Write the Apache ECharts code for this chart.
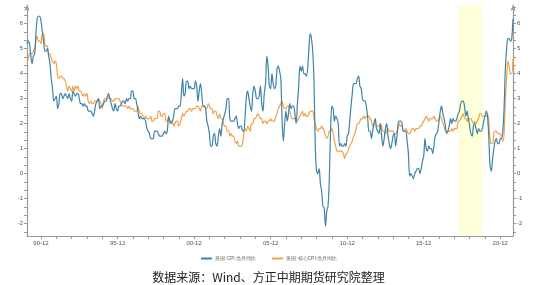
<!DOCTYPE html>
<html>
<head>
<meta charset="utf-8">
<script src="https://cdn.jsdelivr.net/npm/echarts@6/dist/echarts.min.js"></script>
<style>
  html, body { margin: 0; padding: 0; background: #fff; }
  #chart { width: 537px; height: 285px; }
</style>
</head>
<body>
<div id="chart"></div>
<script>
// 美国CPI当月同比，1990-01 ~ 2021-10，按年排列
var cpiYoy = [
  5.2,5.3,5.2,4.7,4.4,4.7,4.8,5.6,6.2,6.3,6.3,6.1,
  5.7,5.3,4.9,4.9,5.0,4.7,4.4,3.8,3.4,2.9,3.0,3.1,
  2.6,2.8,3.2,3.2,3.0,3.1,3.2,3.1,3.0,3.2,3.0,2.9,
  3.3,3.2,3.1,3.2,3.2,3.0,2.8,2.8,2.7,2.8,2.7,2.7,
  2.5,2.5,2.5,2.4,2.3,2.5,2.8,2.9,3.0,2.6,2.7,2.7,
  2.8,2.9,2.9,3.1,3.2,3.0,2.8,2.6,2.5,2.8,2.6,2.5,
  2.7,2.7,2.8,2.9,2.9,2.8,3.0,2.9,3.0,3.0,3.3,3.3,
  3.0,3.0,2.8,2.5,2.2,2.3,2.2,2.2,2.2,2.1,1.8,1.7,
  1.6,1.4,1.4,1.4,1.7,1.7,1.7,1.6,1.5,1.5,1.5,1.6,
  1.7,1.6,1.7,2.3,2.1,2.0,2.1,2.3,2.6,2.6,2.6,2.7,
  2.7,3.2,3.8,3.1,3.2,3.7,3.7,3.4,3.5,3.4,3.4,3.4,
  3.7,3.5,2.9,3.3,3.6,3.2,2.7,2.7,2.6,2.1,1.9,1.6,
  1.1,1.1,1.5,1.6,1.2,1.1,1.5,1.8,1.5,2.0,2.2,2.4,
  2.6,3.0,3.0,2.2,2.1,2.1,2.1,2.2,2.3,2.0,1.8,1.9,
  1.9,1.7,1.7,2.3,3.1,3.3,3.0,2.7,2.5,3.2,3.5,3.3,
  3.0,3.0,3.1,3.5,2.8,2.5,3.2,3.6,4.7,4.3,3.5,3.4,
  4.0,3.6,3.4,3.5,4.2,4.3,4.1,3.8,2.1,1.3,2.0,2.5,
  2.1,2.4,2.8,2.6,2.7,2.7,2.4,2.0,2.8,3.5,4.3,4.1,
  4.3,4.0,4.0,3.9,4.2,5.0,5.6,5.4,4.9,3.7,1.1,0.1,
  0.0,0.2,-0.4,-0.7,-1.3,-1.4,-2.1,-1.5,-1.3,-0.2,1.8,2.7,
  2.6,2.1,2.3,2.2,2.0,1.1,1.2,1.1,1.1,1.2,1.1,1.5,
  1.6,2.1,2.7,3.2,3.6,3.6,3.6,3.8,3.9,3.5,3.4,3.0,
  2.9,2.9,2.7,2.3,1.7,1.7,1.4,1.7,2.0,2.2,1.8,1.7,
  1.6,2.0,1.5,1.1,1.4,1.8,2.0,1.5,1.2,1.0,1.2,1.5,
  1.6,1.1,1.5,2.0,2.1,2.1,2.0,1.7,1.7,1.7,1.3,0.8,
  -0.1,0.0,-0.1,-0.2,0.0,0.1,0.2,0.2,0.0,0.2,0.5,0.7,
  1.4,1.0,0.9,1.1,1.0,1.0,0.8,1.1,1.5,1.6,1.7,2.1,
  2.5,2.7,2.4,2.2,1.9,1.6,1.7,1.9,2.2,2.0,2.2,2.1,
  2.1,2.2,2.4,2.5,2.8,2.9,2.9,2.7,2.3,2.5,2.2,1.9,
  1.6,1.5,1.9,2.0,1.8,1.6,1.8,1.7,1.7,1.8,2.1,2.3,
  2.5,2.3,1.5,0.3,0.1,0.6,1.0,1.3,1.4,1.2,1.2,1.4,
  1.4,1.7,2.6,4.2,5.0,5.4,5.4,5.3,5.4,6.2
];

// 美国核心CPI当月同比
var coreCpiYoy = [
  4.4,4.6,4.8,4.8,4.8,4.9,5.0,5.3,5.5,5.3,5.3,5.2,
  5.6,5.6,5.2,5.1,5.1,4.8,4.8,4.6,4.5,4.4,4.5,4.4,
  3.9,3.8,3.9,3.9,3.8,3.8,3.7,3.5,3.3,3.5,3.4,3.3,
  3.5,3.3,3.5,3.4,3.5,3.3,3.3,3.2,3.1,3.2,3.1,3.2,
  2.9,2.8,2.9,2.8,2.8,2.9,2.9,2.9,3.0,2.9,2.8,2.6,
  2.9,3.0,3.0,3.0,3.1,3.0,3.0,2.9,2.9,3.0,3.0,3.0,
  3.0,2.9,2.8,2.7,2.7,2.7,2.7,2.6,2.7,2.6,2.6,2.6,
  2.5,2.5,2.5,2.7,2.5,2.4,2.4,2.3,2.2,2.3,2.2,2.2,
  2.2,2.3,2.1,2.1,2.2,2.2,2.2,2.5,2.5,2.3,2.3,2.4,
  2.4,2.1,2.1,2.2,2.0,2.1,2.1,1.9,2.0,2.1,2.1,1.9,
  2.0,2.2,2.4,2.3,2.4,2.5,2.5,2.6,2.6,2.5,2.6,2.6,
  2.6,2.7,2.7,2.6,2.5,2.7,2.7,2.7,2.6,2.6,2.8,2.7,
  2.6,2.6,2.4,2.5,2.5,2.3,2.2,2.4,2.2,2.2,2.0,1.9,
  1.9,1.7,1.7,1.5,1.6,1.5,1.5,1.3,1.2,1.3,1.1,1.1,
  1.1,1.2,1.6,1.8,1.7,1.9,1.8,1.7,2.0,2.0,2.2,2.2,
  2.3,2.4,2.3,2.2,2.2,2.0,2.1,2.1,2.0,2.1,2.1,2.2,
  2.1,2.1,2.1,2.3,2.4,2.6,2.7,2.8,2.9,2.7,2.6,2.6,
  2.7,2.7,2.5,2.3,2.2,2.2,2.2,2.1,2.1,2.2,2.3,2.4,
  2.5,2.3,2.4,2.3,2.3,2.4,2.5,2.5,2.5,2.2,2.0,1.8,
  1.7,1.8,1.8,1.9,1.8,1.7,1.5,1.4,1.5,1.7,1.7,1.8,
  1.6,1.3,1.1,0.9,0.9,0.9,0.9,0.9,0.8,0.6,0.8,0.8,
  1.0,1.1,1.2,1.3,1.5,1.6,1.8,2.0,2.0,2.1,2.2,2.2,
  2.3,2.2,2.3,2.3,2.3,2.2,2.1,1.9,2.0,2.0,1.9,1.9,
  1.9,2.0,1.9,1.7,1.7,1.6,1.7,1.8,1.7,1.7,1.7,1.7,
  1.6,1.6,1.7,1.8,2.0,1.9,1.9,1.7,1.7,1.8,1.7,1.6,
  1.6,1.7,1.8,1.8,1.7,1.8,1.8,1.8,1.9,1.9,2.0,2.1,
  2.2,2.3,2.2,2.1,2.2,2.2,2.2,2.3,2.2,2.1,2.1,2.2,
  2.3,2.2,2.0,1.9,1.7,1.7,1.7,1.7,1.7,1.8,1.7,1.8,
  1.8,1.8,2.1,2.1,2.2,2.3,2.4,2.2,2.2,2.1,2.2,2.2,
  2.2,2.1,2.0,2.1,2.0,2.1,2.2,2.4,2.4,2.3,2.3,2.3,
  2.3,2.4,2.1,1.4,1.2,1.2,1.6,1.7,1.7,1.6,1.6,1.6,
  1.4,1.3,1.6,3.0,3.8,4.5,4.3,4.0,4.0,4.6
];

var seriesNames = ['美国:CPI:当月同比', '美国:核心CPI:当月同比'];
var yLabels = [-2, -1, 0, 1, 2, 3, 4, 5, 6];
var shadeRange = ['18-03', '19-10'];
var sourceText = '数据来源：Wind、方正中期期货研究院整理';

// 月份类目 YY-MM
var months = [];
for (var i = 0; i < cpiYoy.length; i++) {
    var y = (1990 + Math.floor(i / 12)) % 100;
    var m = i % 12 + 1;
    months.push((y < 10 ? '0' + y : '' + y) + '-' + (m < 10 ? '0' + m : m));
}

// 刻度：每1/3一格
var yTicks = [];
for (var k = -7; k <= 20; k++) yTicks.push(k / 3);

function makeYAxis(pos) {
    return {
        type: 'value',
        position: pos,
        min: -2.5,
        max: 6.75,
        splitLine: { show: false },
        axisLine: {
            show: true,
            symbol: ['none', 'arrow'],
            symbolSize: [4, 6],
            lineStyle: { color: '#999', width: 1.2 }
        },
        axisTick: {
            show: true,
            length: 3,
            customValues: yTicks,
            lineStyle: { color: '#999' }
        },
        axisLabel: {
            customValues: yLabels,
            fontSize: 6,
            color: '#555',
            margin: 4
        }
    };
}

var myChart = echarts.init(document.getElementById('chart'));
var option = {
    animation: false,
    grid: { left: 27, right: 24, top: 5, bottom: 49 },
    title: {
        text: sourceText,
        left: 'center',
        top: 266,
        textStyle: { fontSize: 12, fontWeight: 'normal', color: '#222', fontFamily: 'Noto Sans CJK SC' }
    },
    legend: {
        data: seriesNames,
        left: 196,
        top: 251,
        itemWidth: 11,
        itemHeight: 2,
        itemGap: 16,
        icon: 'rect',
        textStyle: { fontSize: 5, color: '#666', padding: [0, 0, 0, -2] }
    },
    xAxis: {
        type: 'category',
        data: months,
        boundaryGap: false,
        axisLine: { onZero: false, lineStyle: { color: '#999', width: 1.2 } },
        axisTick: {
            length: 3,
            interval: function (idx) { return idx % 12 === 11; },
            lineStyle: { color: '#999' }
        },
        axisLabel: {
            interval: function (idx) { return idx % 60 === 11; },
            fontSize: 6,
            color: '#555',
            margin: 4
        }
    },
    yAxis: [makeYAxis('left'), makeYAxis('right')],
    series: [
        {
            name: seriesNames[0],
            type: 'line',
            data: cpiYoy,
            showSymbol: false,
            smooth: 0.3,
            lineStyle: { color: '#3d84a8', width: 1.2 },
            itemStyle: { color: '#3d84a8' },
            markArea: {
                silent: true,
                itemStyle: { color: '#ffffd9' },
                data: [[{ xAxis: shadeRange[0] }, { xAxis: shadeRange[1] }]]
            },
            z: 3
        },
        {
            name: seriesNames[1],
            type: 'line',
            data: coreCpiYoy,
            showSymbol: false,
            smooth: 0.3,
            lineStyle: { color: '#f2a14a', width: 1.2 },
            itemStyle: { color: '#f2a14a' },
            z: 2
        }
    ]
};
myChart.setOption(option);
</script>
</body>
</html>
